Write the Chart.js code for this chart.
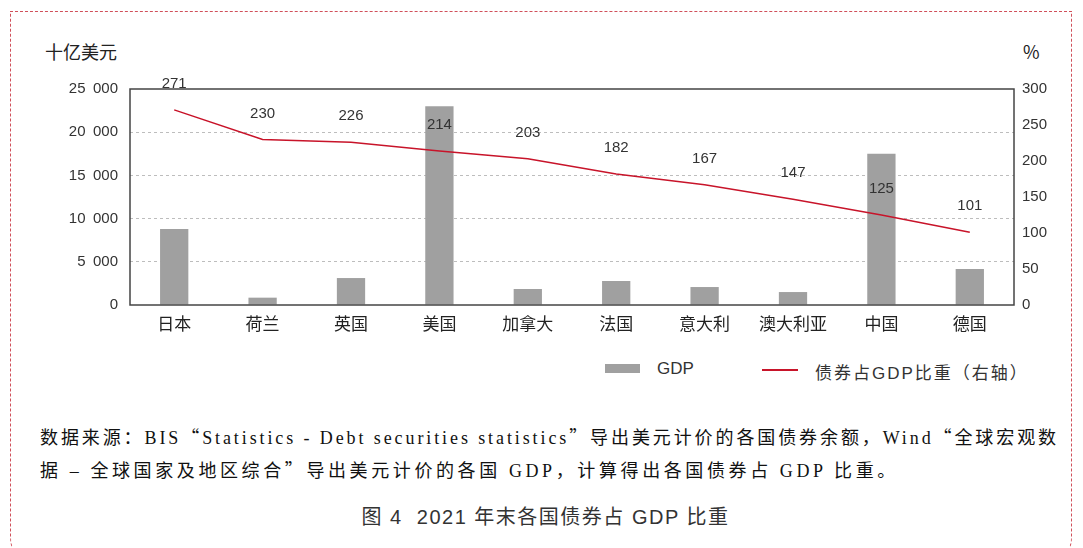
<!DOCTYPE html>
<html>
<head>
<meta charset="utf-8">
<script src="https://cdn.jsdelivr.net/npm/chart.js@4.4.1/dist/chart.umd.min.js"></script>
<style>
  html, body { margin: 0; padding: 0; background: #fff; }
  body { width: 1083px; height: 548px; position: relative; overflow: hidden;
         font-family: "Liberation Sans", Arial, "Noto Sans CJK SC", sans-serif; color: #333; }
  #frame { position: absolute; left: 10px; top: 11px; width: 1062px; height: 560px;
           border: 1px dashed #d0505a; border-radius: 0 0 34px 34px; box-sizing: border-box; }
  #wrap { position: absolute; left: 0; top: 0; width: 1083px; height: 340px; }
  .axt { position: absolute; top: 38px; font-size: 18px; font-family: "Noto Sans CJK SC", sans-serif; color: #222; }
  #legend { position: absolute; top: 359px; left: 0; width: 1083px; height: 22px; font-size: 17px; color: #333;
            font-family: "Liberation Sans", "Noto Sans CJK SC", sans-serif; }
  #legend span { position: absolute; }
  #note { position: absolute; left: 40px; top: 421px; font-size: 18px; line-height: 31px; color: #111;
          font-family: "Liberation Serif", "Noto Sans CJK SC", serif; white-space: nowrap; }
  #note div.l1 { letter-spacing: 2.9px; }
  #note div.l2 { letter-spacing: 3.6px; }
  #note .q { font-family: "Noto Sans CJK SC", sans-serif; }
  #cap { position: absolute; left: 0; width: 1083px; top: 501px; text-align: center; font-size: 20px; color: #333;
         letter-spacing: 1.5px; padding-left: 8px; box-sizing: border-box;
         font-family: "Liberation Sans", "Noto Sans CJK SC", sans-serif; }
</style>
</head>
<body>
<div id="frame"></div>
<div class="axt" style="left:45px;">十亿美元</div>
<div class="axt" style="left:1023px;">%</div>
<div id="wrap"><canvas id="c"></canvas></div>
<div id="legend">
  <span style="left:605px;top:5px;width:35px;height:9px;background:#a0a0a0;"></span>
  <span style="left:657px;top:0;">GDP</span>
  <span style="left:762px;top:10px;width:36px;height:1.5px;background:#c8142a;"></span>
  <span style="left:815px;top:0;letter-spacing:2px;">债券占GDP比重（右轴）</span>
</div>
<div id="note">
  <div class="l1">数据来源：BIS<span class="q">“</span>Statistics - Debt securities statistics<span class="q">”</span>导出美元计价的各国债券余额，Wind<span class="q">“</span>全球宏观数</div>
  <div class="l2">据 – 全球国家及地区综合<span class="q">”</span>导出美元计价的各国 GDP，计算得出各国债券占 GDP 比重。</div>
</div>
<div id="cap">图 4&nbsp;&nbsp;2021 年末各国债券占 GDP 比重</div>

<script>
// categories and series
const countries = ["日本", "荷兰", "英国", "美国", "加拿大", "法国", "意大利", "澳大利亚", "中国", "德国"];
const gdp = [8800, 850, 3120, 23000, 1850, 2780, 2080, 1500, 17500, 4170];
const bondRatio = [271, 230, 226, 214, 203, 182, 167, 147, 125, 101];
const leftTicks = [0, 5000, 10000, 15000, 20000, 25000];
const rightTicks = [0, 50, 100, 150, 200, 250, 300];

const tickFont = { family: "'Liberation Sans', Arial, sans-serif", size: 15 };

function spaced(v) {
  return String(v).replace(/\B(?=(\d{3})+(?!\d))/g, "\u2002");
}

// frame around plot area + value labels above the line
const framePlugin = {
  id: "frame",
  afterDatasetsDraw(chart) {
    const { ctx, chartArea: a } = chart;
    ctx.save();
    ctx.strokeStyle = "#444";
    ctx.lineWidth = 1.5;
    ctx.strokeRect(a.left, a.top, a.right - a.left, a.bottom - a.top);

    const meta = chart.getDatasetMeta(0);
    ctx.fillStyle = "#333";
    ctx.font = "15px " + tickFont.family;
    ctx.textAlign = "center";
    ctx.textBaseline = "middle";
    meta.data.forEach((pt, i) => {
      ctx.fillText(String(bondRatio[i]), pt.x, pt.y - 26);
    });
    ctx.restore();
  }
};

new Chart(document.getElementById("c"), {
  data: {
    labels: countries,
    datasets: [
      {
        type: "line",
        label: "债券占GDP比重（右轴）",
        data: bondRatio,
        yAxisID: "y2",
        borderColor: "#c8142a",
        borderWidth: 1.5,
        pointRadius: 0,
        tension: 0,
        order: 0
      },
      {
        type: "bar",
        label: "GDP",
        data: gdp,
        yAxisID: "y",
        backgroundColor: "#a0a0a0",
        categoryPercentage: 1,
        barPercentage: 0.32,
        order: 1
      }
    ]
  },
  options: {
    responsive: true,
    maintainAspectRatio: false,
    animation: false,
    layout: { padding: { top: 89, left: 0, right: 0, bottom: 0 } },
    plugins: { legend: { display: false }, tooltip: { enabled: false } },
    scales: {
      x: {
        grid: { display: false, drawTicks: false },
        border: { display: false },
        ticks: { color: "#222", padding: 8, font: { family: "'Noto Sans CJK SC', sans-serif", size: 17 } },
        afterFit(s) { s.height = 35; }
      },
      y: {
        position: "left",
        min: 0, max: 25000,
        afterBuildTicks(s) { s.ticks = leftTicks.map(v => ({ value: v })); },
        ticks: { color: "#333", padding: 12, font: tickFont, callback: v => spaced(v) },
        grid: {
          drawTicks: false,
          color: ctx => (ctx.tick && (ctx.tick.value === 0 || ctx.tick.value === 25000)) ? "rgba(0,0,0,0)" : "#bdbdbd",
          lineWidth: 1
        },
        border: { display: false, dash: [3, 3] },
        afterFit(s) { s.width = 130; }
      },
      y2: {
        position: "right",
        min: 0, max: 300,
        afterBuildTicks(s) { s.ticks = rightTicks.map(v => ({ value: v })); },
        ticks: { color: "#333", padding: 8, font: tickFont },
        grid: { display: false, drawTicks: false },
        border: { display: false },
        afterFit(s) { s.width = 69; }
      }
    }
  },
  plugins: [framePlugin]
});
</script>
</body>
</html>
